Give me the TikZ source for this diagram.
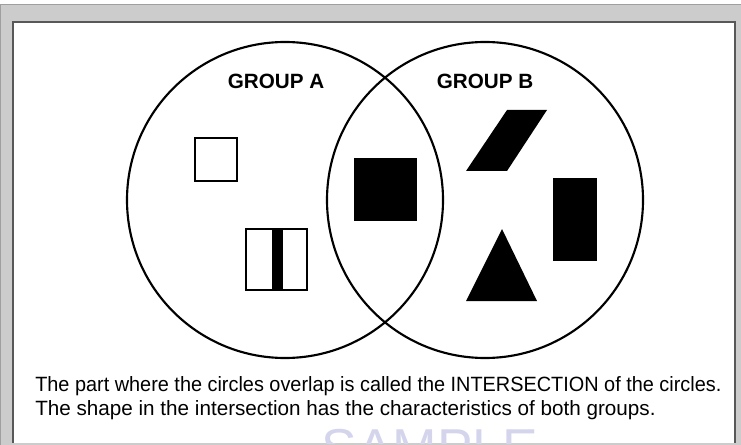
\documentclass[tikz,border=0pt]{standalone}
\usepackage{fontspec}
\setmainfont{Liberation Sans}
\usetikzlibrary{fit,positioning}
\definecolor{frameband}{RGB}{204,204,204}
\definecolor{frameedge}{RGB}{88,88,88}
\definecolor{stamp}{RGB}{212,212,236}

\begin{document}
\begin{tikzpicture}[x=0.75pt,y=-0.75pt,
    ring/.style={draw,circle,line width=1.6pt,inner sep=0pt,minimum size=237pt},
    hollow/.style={draw,line width=1.3pt,inner sep=0pt},
    blackbox/.style={fill=black,inner sep=0pt},
    grouplabel/.style={font=\fontsize{15.5}{18}\selectfont\bfseries},
    captionline/.style={font=\fontsize{15.5}{18}\selectfont,anchor=base west,inner sep=0pt}]
  \useasboundingbox (0,0) rectangle (741,445);
  % page frame
  \fill[white] (0,0) rectangle (741,445);
  \filldraw[fill=frameband,draw=gray!75] (0.5,4.5) rectangle (741,445);
  \fill[white] (13,22) rectangle (735,443);
  \draw[frameedge,line width=1.5pt] (13,443) -- (13,22) -- (735,22) -- (735,443);
  \begin{scope}
    \clip (13,22) rectangle (735,443);
    \node[stamp,font=\fontsize{40}{44}\selectfont,anchor=base,inner sep=0pt] (stampmark) at (430,466) {SAMPLE};
  \end{scope}

  % the two groups
  \node[ring] (grpA) at (285,200) {};
  \node[ring] (grpB) at (485,200) {};
  \node[grouplabel] (labA) at (276,81) {GROUP A};
  \node[grouplabel] (labB) at (485,81) {GROUP B};

  % group A only
  \node[hollow,fit={(195,138) (237,181)}] (sqA) {};
  \node[blackbox,fit={(272,229) (283,290)}] (barA) {};
  \node[hollow,fit={(246,229) (307,290)}] (boxA) {};
  % both groups
  \node[blackbox,fit={(354,158) (417,221)}] (sqAB) {};
  % group B only
  \node[blackbox,fit={(553,178) (597,261)}] (rectB) {};
  \fill (466,171) -- (507,110) -- (547,110) -- (507,171) -- cycle;
  \fill (502,229) -- (537,301) -- (466,301) -- cycle;

  \node[captionline] (line1) at (35,391) {\scalebox{0.962}[1]{The part where the circles overlap is called the INTERSECTION of the circles.}};
  \node[captionline] (line2) at (35,415) {The shape in the intersection has the characteristics of both groups.};
\end{tikzpicture}
\end{document}
